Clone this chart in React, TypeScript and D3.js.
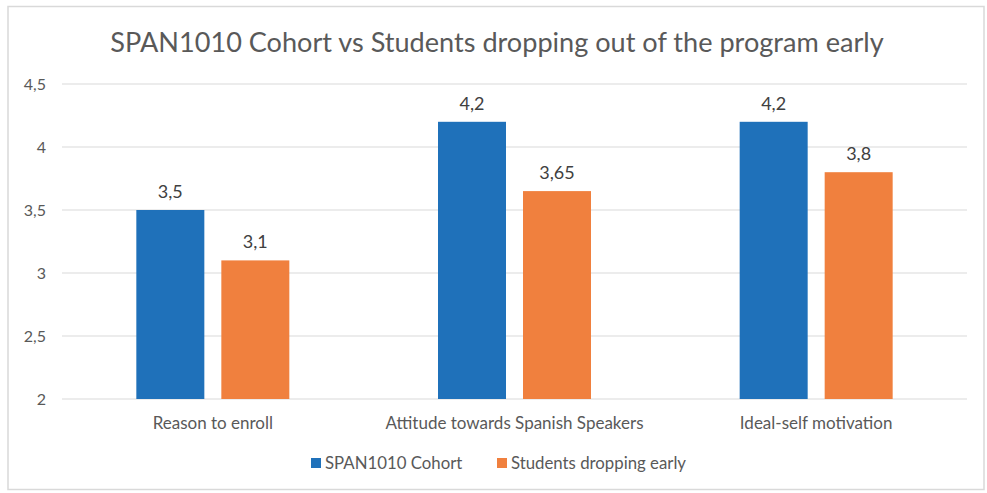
import React from "react";
import * as d3 from "d3";

const categories = ["Reason to enroll", "Attitude towards Spanish Speakers", "Ideal-self motivation"];
const seriesNames = ["SPAN1010 Cohort", "Students dropping early"];
const cohortValues = [3.5, 4.2, 4.2];
const droppingValues = [3.1, 3.65, 3.8];
const yTicks = [2, 2.5, 3, 3.5, 4, 4.5];
const colors = ["#1F71BA", "#F0803E"];

const W = 987, H = 493;
const fmt = (v: number) => String(v).replace(".", ",");

export default function App() {
  const x = d3.scaleBand<string>().domain(categories).range([62, 967]);
  const y = d3.scaleLinear().domain([2, 4.5]).range([399, 84]);
  const barW = 68;
  const gap = 17;
  const series = [cohortValues, droppingValues];
  const font = "Lato, 'Open Sans', sans-serif";
  return (
    <svg width={W} height={H} style={{ position: "absolute", left: 0, top: 0 }} fontFamily={font}>
      <rect x={0} y={0} width={W} height={H} fill="#fff" />
      <rect x={8} y={6.5} width={976} height={483} fill="#fff" stroke="#d9d9d9" strokeWidth={1.5} />
      <text x={497} y={52} textAnchor="middle" fontSize={27.1} fill="#595959">
        SPAN1010 Cohort vs Students dropping out of the program early
      </text>
      {yTicks.map((t) => (
        <g key={t}>
          <line x1={62} x2={967} y1={y(t)} y2={y(t)} stroke="#d9d9d9" strokeWidth={1} />
          <text x={46} y={y(t) + 5.5} textAnchor="end" fontSize={16} fill="#595959">
            {fmt(t)}
          </text>
        </g>
      ))}
      {categories.map((c, i) => {
        const cx = (x(c) ?? 0) + x.bandwidth() / 2;
        return (
          <g key={c}>
            {series.map((vals, s) => {
              const bx = s === 0 ? cx - gap / 2 - barW : cx + gap / 2;
              return (
                <g key={s}>
                  <rect x={bx} y={y(vals[i])} width={barW} height={y(2) - y(vals[i])} fill={colors[s]} />
                  <text x={bx + barW / 2} y={y(vals[i]) - 12} textAnchor="middle" fontSize={18} fill="#404040">
                    {fmt(vals[i])}
                  </text>
                </g>
              );
            })}
            <text x={cx} y={429} textAnchor="middle" fontSize={17} fill="#595959">
              {c}
            </text>
          </g>
        );
      })}
      {seriesNames.map((n, s) => {
        const lx = s === 0 ? 311 : 497;
        return (
          <g key={n}>
            <rect x={lx} y={458} width={10} height={10} fill={colors[s]} />
            <text x={lx + 14} y={469} fontSize={16.8} fill="#595959">
              {n}
            </text>
          </g>
        );
      })}
    </svg>
  );
}
